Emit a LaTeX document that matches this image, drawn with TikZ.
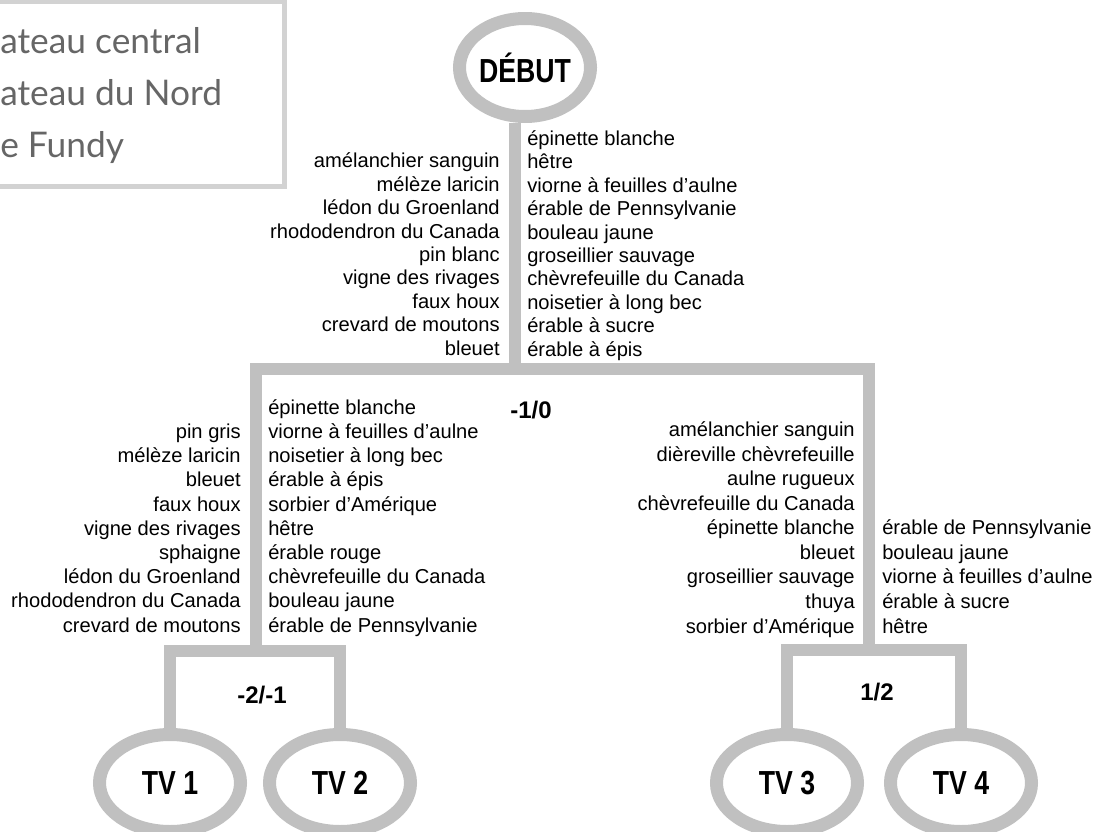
\documentclass[tikz,border=0pt]{standalone}
\usepackage{fontspec}
\setmainfont{Liberation Sans}
\newfontfamily\titrefont[FakeStretch=0.8]{Liberation Sans}
\newfontfamily\zonefont{Lato}
\usetikzlibrary{shapes.geometric}

\definecolor{grisarbre}{RGB}{192,192,192}
\definecolor{griscadre}{RGB}{210,210,210}
\definecolor{gristexte}{RGB}{102,102,102}

\setlength{\lineskiplimit}{-20pt}

\tikzset{
  branche/.style={draw=grisarbre, line width=9.4pt},
  groupe/.style={ellipse, draw=grisarbre, line width=9.75pt, inner sep=0pt,
    minimum width=105.75pt, minimum height=72.75pt,
    font=\titrefont\bfseries\fontsize{25}{30}\selectfont},
  liste/.style={inner sep=0pt, font=\fontsize{15.1}{#1}\selectfont},
  listeg/.style={liste=#1, align=right, anchor=base east},
  listed/.style={liste=#1, align=left, anchor=base west},
  seuil/.style={inner sep=0pt, font=\bfseries\fontsize{18}{20}\selectfont},
  zone/.style={inner sep=0pt, anchor=base west, text=gristexte,
    font=\zonefont\fontsize{26.5}{30}\selectfont}
}

\begin{document}
\begin{tikzpicture}[x=0.75pt, y=-0.75pt]
    \useasboundingbox (0,0) rectangle (1101,832);

    % cadre des zones en haut a gauche
    \draw[griscadre, line width=3.75pt] (-20,1.5) rectangle (284,186);
    \node[zone] (zone1) at (0,53) {ateau central};
    \node[zone] (zone2) at (0,105) {ateau du Nord};
    \node[zone] (zone3) at (0,157) {e Fundy};

    % ellipses
    \node[groupe, minimum width=98.25pt, minimum height=73.5pt] (debut) at (525,67.5) {DÉBUT};
    \node[groupe] (tv1) at (170,783) {TV 1};
    \node[groupe] (tv2) at (340,783) {TV 2};
    \node[groupe] (tv3) at (787,783) {TV 3};
    \node[groupe] (tv4) at (961,783) {TV 4};

    % points de branchement
    \coordinate (partage) at (515,369);
    \coordinate (gauche) at (256,369);
    \coordinate (droite) at (869,369);
    \coordinate (brasG) at (256,651);
    \coordinate (brasD) at (869,650);

    % branches
    \draw[branche] (partage |- debut.south) -- (partage);
    \draw[branche] (brasG) -- (gauche) -- (droite) -- (brasD);
    \draw[branche] (tv1.north) -- (tv1.north |- brasG) -- (tv2.north |- brasG) -- (tv2.north);
    \draw[branche] (tv3.north) -- (tv3.north |- brasD) -- (tv4.north |- brasD) -- (tv4.north);

    % seuils
    \node[seuil] (s0) at (531,410) {-1/0};
    \node[seuil] (s1) at (262,695) {-2/-1};
    \node[seuil] (s2) at (877,692) {1/2};

    % especes sous le debut
    \node[listeg=17.55pt] (listeA) at (500,355) {amélanchier sanguin\\mélèze laricin\\lédon du Groenland\\rhododendron du Canada\\pin blanc\\vigne des rivages\\faux houx\\crevard de moutons\\bleuet};
    \node[listed=17.55pt] (listeB) at (527,356) {épinette blanche\\hêtre\\viorne à feuilles d’aulne\\érable de Pennsylvanie\\bouleau jaune\\groseillier sauvage\\chèvrefeuille du Canada\\noisetier à long bec\\érable à sucre\\érable à épis};

    % especes de la branche -2/-1
    \node[listeg=18.15pt] (listeC) at (241,632) {pin gris\\mélèze laricin\\bleuet\\faux houx\\vigne des rivages\\sphaigne\\lédon du Groenland\\rhododendron du Canada\\crevard de moutons};
    \node[listed=18.15pt] (listeD) at (268,632) {épinette blanche\\viorne à feuilles d’aulne\\noisetier à long bec\\érable à épis\\sorbier d’Amérique\\hêtre\\érable rouge\\chèvrefeuille du Canada\\bouleau jaune\\érable de Pennsylvanie};

    % especes de la branche 1/2
    \node[listeg=18.4pt] (listeE) at (855,633) {amélanchier sanguin\\dièreville chèvrefeuille\\aulne rugueux\\chèvrefeuille du Canada\\épinette blanche\\bleuet\\groseillier sauvage\\thuya\\sorbier d’Amérique};
    \node[listed=18.4pt] (listeF) at (882,633) {érable de Pennsylvanie\\bouleau jaune\\viorne à feuilles d’aulne\\érable à sucre\\hêtre};
\end{tikzpicture}
\end{document}
